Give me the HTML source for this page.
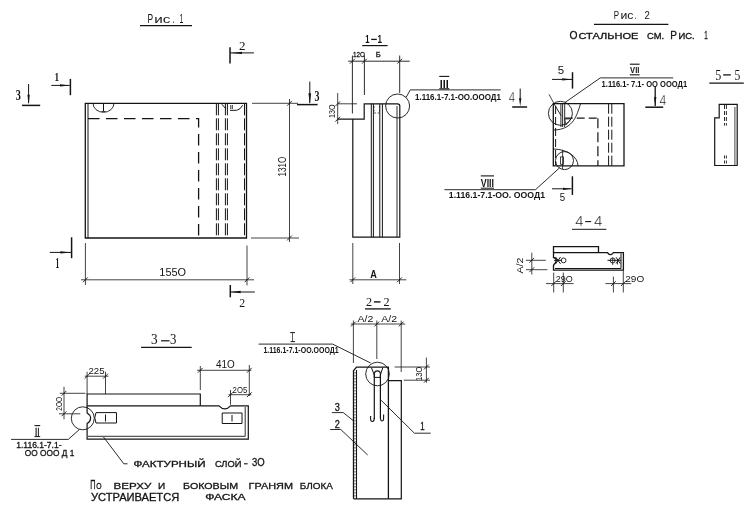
<!DOCTYPE html>
<html><head><meta charset="utf-8"><title>drawing</title>
<style>
html,body{margin:0;padding:0;background:#fff;}
body{width:754px;height:527px;overflow:hidden;}
svg{display:block;will-change:transform;}
text{font-family:"Liberation Sans", sans-serif;}
</style></head><body>
<svg width="754" height="527" viewBox="0 0 754 527">
<rect width="754" height="527" fill="#fff"/>
<text x="147.6" y="22.6" font-size="12.9" textLength="5.6" lengthAdjust="spacingAndGlyphs" fill="#141414" font-weight="normal">Р</text>
<text x="154.2" y="22.6" font-size="11.6" textLength="16.2" lengthAdjust="spacingAndGlyphs" fill="#141414" font-weight="normal">ис</text>
<text x="172.2" y="22.6" font-size="12" textLength="2.2" lengthAdjust="spacingAndGlyphs" fill="#141414" font-weight="normal">.</text>
<text x="179.6" y="22.6" font-size="12.9" textLength="3.8" lengthAdjust="spacingAndGlyphs" fill="#141414" font-weight="normal">1</text>
<line x1="140" y1="25.6" x2="192" y2="25.6" stroke="#141414" stroke-width="1.2"/>
<line x1="230" y1="47.3" x2="230" y2="63.6" stroke="#141414" stroke-width="1.5"/>
<line x1="230" y1="52.9" x2="253.9" y2="52.9" stroke="#141414" stroke-width="1.0"/>
<polygon points="231,52.9 242,51.699999999999996 242,54.1" fill="#141414"/>
<text x="238.9" y="49.6" font-size="12.7" textLength="6.5" lengthAdjust="spacingAndGlyphs" fill="#141414" font-weight="normal" style="font-family:&quot;Liberation Serif&quot;, serif">2</text>
<line x1="51.3" y1="85.4" x2="69.6" y2="85.4" stroke="#141414" stroke-width="1.0"/>
<polygon points="70,85.4 60,84.2 60,86.60000000000001" fill="#141414"/>
<line x1="70.4" y1="78.9" x2="70.4" y2="95.2" stroke="#141414" stroke-width="1.5"/>
<text x="54.4" y="80.8" font-size="13" textLength="4.6" lengthAdjust="spacingAndGlyphs" fill="#141414" font-weight="bold" style="font-family:&quot;Liberation Serif&quot;, serif">1</text>
<line x1="28.6" y1="84" x2="28.6" y2="103" stroke="#141414" stroke-width="1.0"/>
<polygon points="28.6,104.8 27.400000000000002,94.8 29.8,94.8" fill="#141414"/>
<line x1="22" y1="105.4" x2="40.2" y2="105.4" stroke="#141414" stroke-width="1.5"/>
<text x="15.8" y="99.8" font-size="13.7" textLength="5.1" lengthAdjust="spacingAndGlyphs" fill="#141414" font-weight="bold" style="font-family:&quot;Liberation Serif&quot;, serif">3</text>
<line x1="309.8" y1="81.6" x2="309.8" y2="103" stroke="#141414" stroke-width="1.0"/>
<polygon points="309.8,104.2 308.5,93.2 311.1,93.2" fill="#141414"/>
<line x1="297" y1="104.6" x2="317.6" y2="104.6" stroke="#141414" stroke-width="1.5"/>
<text x="314.4" y="100.6" font-size="14.5" textLength="5.0" lengthAdjust="spacingAndGlyphs" fill="#141414" font-weight="bold" style="font-family:&quot;Liberation Serif&quot;, serif">3</text>
<line x1="49.8" y1="252.4" x2="71" y2="252.4" stroke="#141414" stroke-width="1.0"/>
<polygon points="71.4,252.4 60.400000000000006,251.20000000000002 60.400000000000006,253.6" fill="#141414"/>
<line x1="71.6" y1="237.3" x2="71.6" y2="258.2" stroke="#141414" stroke-width="1.5"/>
<text x="55.6" y="267.5" font-size="14.2" textLength="3.8" lengthAdjust="spacingAndGlyphs" fill="#141414" font-weight="bold" style="font-family:&quot;Liberation Serif&quot;, serif">1</text>
<line x1="230.3" y1="285" x2="230.3" y2="297.3" stroke="#141414" stroke-width="1.5"/>
<line x1="230.3" y1="292" x2="254.8" y2="292" stroke="#141414" stroke-width="1.0"/>
<polygon points="230.6,292 240.6,290.7 240.6,293.3" fill="#141414"/>
<text x="239.2" y="307.2" font-size="12.3" textLength="5.9" lengthAdjust="spacingAndGlyphs" fill="#141414" font-weight="normal" style="font-family:&quot;Liberation Serif&quot;, serif">2</text>
<path d="M85.3 103.3 H246.5 V238 H85.3 Z" stroke="#141414" stroke-width="1.3" fill="none"/>
<line x1="88.0" y1="103.3" x2="88.0" y2="238" stroke="#141414" stroke-width="1.0"/>
<path d="M88 118.7 H198.6 V238" stroke="#141414" stroke-width="1.3" fill="none" stroke-dasharray="11.5,6.5"/>
<line x1="216.4" y1="103.3" x2="216.4" y2="238" stroke="#141414" stroke-width="1.0" stroke-dasharray="12,3"/>
<line x1="218.4" y1="103.3" x2="218.4" y2="238" stroke="#141414" stroke-width="1.0" stroke-dasharray="12,3"/>
<line x1="225.4" y1="103.3" x2="225.4" y2="238" stroke="#141414" stroke-width="1.0" stroke-dasharray="12,3"/>
<line x1="227.4" y1="103.3" x2="227.4" y2="238" stroke="#141414" stroke-width="1.0" stroke-dasharray="12,3"/>
<line x1="244.5" y1="103.3" x2="244.5" y2="238" stroke="#141414" stroke-width="1.0" stroke-dasharray="12,3"/>
<path d="M93 103.3 A10.5 9 0 0 0 114 103.3" stroke="#141414" stroke-width="0.9" fill="none"/>
<line x1="103.5" y1="104" x2="103.5" y2="111" stroke="#141414" stroke-width="1.0"/>
<line x1="101.5" y1="111.5" x2="105.5" y2="111.5" stroke="#141414" stroke-width="0.8"/>
<path d="M230 110.3 H236.7 Q240.5 109.5 242.7 105.2" stroke="#141414" stroke-width="1.0" fill="none"/>
<line x1="221.8" y1="104.2" x2="225.6" y2="108.5" stroke="#141414" stroke-width="1.0"/>
<text x="230" y="108.7" font-size="4.5" textLength="3.2" lengthAdjust="spacingAndGlyphs" fill="#141414" font-weight="bold">II</text>
<line x1="252" y1="103.3" x2="298" y2="103.3" stroke="#141414" stroke-width="0.8"/>
<line x1="251" y1="238" x2="299" y2="238" stroke="#141414" stroke-width="0.8"/>
<line x1="289.5" y1="99" x2="289.5" y2="242" stroke="#141414" stroke-width="0.8"/>
<line x1="287.1" y1="105.7" x2="291.9" y2="100.89999999999999" stroke="#141414" stroke-width="0.9"/>
<line x1="287.1" y1="240.4" x2="291.9" y2="235.6" stroke="#141414" stroke-width="0.9"/>
<text transform="translate(286.2,176.5) rotate(-90)" x="0" y="0" font-size="11" textLength="19.9" lengthAdjust="spacingAndGlyphs" fill="#141414">131O</text>
<line x1="85.4" y1="243" x2="85.4" y2="285" stroke="#141414" stroke-width="0.8"/>
<line x1="247" y1="245.5" x2="247" y2="285.4" stroke="#141414" stroke-width="0.8"/>
<line x1="81" y1="279.8" x2="254" y2="279.8" stroke="#141414" stroke-width="0.8"/>
<line x1="83.0" y1="282.2" x2="87.80000000000001" y2="277.40000000000003" stroke="#141414" stroke-width="0.9"/>
<line x1="244.6" y1="282.2" x2="249.4" y2="277.40000000000003" stroke="#141414" stroke-width="0.9"/>
<text x="159.3" y="276.3" font-size="10" textLength="26.8" lengthAdjust="spacingAndGlyphs" fill="#141414" font-weight="normal">155O</text>
<text x="365.3" y="42.9" font-size="11" textLength="4.2" lengthAdjust="spacingAndGlyphs" fill="#141414" font-weight="bold">1</text>
<line x1="371.2" y1="39.4" x2="376.8" y2="39.4" stroke="#141414" stroke-width="1.3"/>
<text x="377.5" y="42.9" font-size="11" textLength="4.5" lengthAdjust="spacingAndGlyphs" fill="#141414" font-weight="bold">1</text>
<line x1="362.2" y1="45.6" x2="387.6" y2="45.6" stroke="#141414" stroke-width="1.2"/>
<line x1="348.2" y1="61.2" x2="409.7" y2="61.2" stroke="#141414" stroke-width="0.9"/>
<line x1="350.0" y1="63.6" x2="354.79999999999995" y2="58.800000000000004" stroke="#141414" stroke-width="0.9"/>
<line x1="362.0" y1="63.6" x2="366.79999999999995" y2="58.800000000000004" stroke="#141414" stroke-width="0.9"/>
<line x1="397.3" y1="63.6" x2="402.09999999999997" y2="58.800000000000004" stroke="#141414" stroke-width="0.9"/>
<line x1="352.4" y1="55.5" x2="352.4" y2="113.5" stroke="#141414" stroke-width="0.9"/>
<line x1="364.4" y1="55.5" x2="364.4" y2="95" stroke="#141414" stroke-width="0.9"/>
<line x1="399.7" y1="55.5" x2="399.7" y2="93" stroke="#141414" stroke-width="0.9"/>
<text x="352.9" y="56.5" font-size="7.8" textLength="12.0" lengthAdjust="spacingAndGlyphs" fill="#141414" font-weight="normal" stroke="#141414" stroke-width="0.3">12O</text>
<text x="375.8" y="56.5" font-size="7.8" textLength="5.0" lengthAdjust="spacingAndGlyphs" fill="#141414" font-weight="normal" stroke="#141414" stroke-width="0.3">Б</text>
<line x1="337.8" y1="103.8" x2="357" y2="103.8" stroke="#141414" stroke-width="0.8"/>
<line x1="337.7" y1="93" x2="337.7" y2="124" stroke="#141414" stroke-width="0.8"/>
<line x1="335.3" y1="106.2" x2="340.09999999999997" y2="101.39999999999999" stroke="#141414" stroke-width="0.9"/>
<line x1="335.3" y1="121.60000000000001" x2="340.09999999999997" y2="116.8" stroke="#141414" stroke-width="0.9"/>
<text transform="translate(334.6,118) rotate(-90)" x="0" y="0" font-size="8.5" textLength="13.5" lengthAdjust="spacingAndGlyphs" fill="#141414">13O</text>
<path d="M337.8 119.2 H364.2 V103.8 H397.5 Q399.8 103.8 399.8 106 V237.2 H352.8 V119.2" stroke="#141414" stroke-width="1.2" fill="none"/>
<line x1="397.0" y1="106" x2="397.0" y2="237.2" stroke="#141414" stroke-width="0.9"/>
<line x1="371.3" y1="103.8" x2="371.3" y2="237.2" stroke="#141414" stroke-width="1.0"/>
<line x1="373.4" y1="103.8" x2="373.4" y2="237.2" stroke="#141414" stroke-width="1.0"/>
<line x1="379.8" y1="103.8" x2="379.8" y2="237.2" stroke="#141414" stroke-width="1.0"/>
<line x1="382.4" y1="103.8" x2="382.4" y2="237.2" stroke="#141414" stroke-width="1.0"/>
<path d="M374 106 V113 H379.5 V106" stroke="#141414" stroke-width="0.7" fill="none" stroke-dasharray="2,1.5"/>
<circle cx="397.6" cy="106" r="12" stroke="#141414" stroke-width="0.9" fill="none"/>
<path d="M406 97.5 L410.3 89.9 H500.6" stroke="#141414" stroke-width="0.9" fill="none"/>
<text x="439.8" y="87.6" font-size="10" textLength="9.0" lengthAdjust="spacingAndGlyphs" fill="#141414" font-weight="bold">III</text>
<line x1="439.3" y1="76.4" x2="449.3" y2="76.4" stroke="#141414" stroke-width="1.1"/>
<line x1="439.3" y1="88.8" x2="449.3" y2="88.8" stroke="#141414" stroke-width="1.1"/>
<text x="415" y="100.2" font-size="9.8" textLength="86" lengthAdjust="spacingAndGlyphs" fill="#141414" font-weight="bold">1.116.1-7.1-ОО.ОООД1</text>
<line x1="352.8" y1="243" x2="352.8" y2="284" stroke="#141414" stroke-width="0.8"/>
<line x1="399.5" y1="243" x2="399.5" y2="284" stroke="#141414" stroke-width="0.8"/>
<line x1="349.4" y1="279.8" x2="406.3" y2="279.8" stroke="#141414" stroke-width="0.8"/>
<line x1="350.40000000000003" y1="282.2" x2="355.2" y2="277.40000000000003" stroke="#141414" stroke-width="0.9"/>
<line x1="397.1" y1="282.2" x2="401.9" y2="277.40000000000003" stroke="#141414" stroke-width="0.9"/>
<text x="370.3" y="277.5" font-size="10.2" textLength="6.6" lengthAdjust="spacingAndGlyphs" fill="#141414" font-weight="bold">A</text>
<text x="613.8" y="18.8" font-size="11.2" textLength="5.3" lengthAdjust="spacingAndGlyphs" fill="#141414" font-weight="normal">Р</text>
<text x="620.5" y="18.8" font-size="10" textLength="13.0" lengthAdjust="spacingAndGlyphs" fill="#141414" font-weight="normal">ис</text>
<text x="634.4" y="18.8" font-size="10" textLength="1.8" lengthAdjust="spacingAndGlyphs" fill="#141414" font-weight="normal">.</text>
<text x="644.6" y="18.8" font-size="11.2" textLength="5.3" lengthAdjust="spacingAndGlyphs" fill="#141414" font-weight="normal">2</text>
<line x1="594" y1="24.4" x2="668.4" y2="24.4" stroke="#141414" stroke-width="1.2"/>
<text x="569.5" y="38.8" font-size="11.5" textLength="8.0" lengthAdjust="spacingAndGlyphs" fill="#141414" font-weight="normal" stroke="#141414" stroke-width="0.3">О</text>
<text x="578.5" y="38.8" font-size="8.6" textLength="60.0" lengthAdjust="spacingAndGlyphs" fill="#141414" font-weight="normal" stroke="#141414" stroke-width="0.3">СТАЛЬНОЕ</text>
<text x="647" y="38.8" font-size="8.6" textLength="17" lengthAdjust="spacingAndGlyphs" fill="#141414" font-weight="normal" stroke="#141414" stroke-width="0.3">СМ.</text>
<text x="670.3" y="38.8" font-size="11.5" textLength="6.7" lengthAdjust="spacingAndGlyphs" fill="#141414" font-weight="normal" stroke="#141414" stroke-width="0.3">Р</text>
<text x="678.5" y="38.8" font-size="8.6" textLength="16.2" lengthAdjust="spacingAndGlyphs" fill="#141414" font-weight="normal" stroke="#141414" stroke-width="0.3">ИС.</text>
<text x="704.3" y="38.8" font-size="11.5" textLength="3.5" lengthAdjust="spacingAndGlyphs" fill="#141414" font-weight="normal" stroke="#141414" stroke-width="0.3">1</text>
<text x="557.8" y="74.3" font-size="11.5" textLength="6.4" lengthAdjust="spacingAndGlyphs" fill="#141414" font-weight="normal">5</text>
<line x1="552" y1="79.4" x2="572" y2="79.4" stroke="#141414" stroke-width="1.0"/>
<polygon points="572.2,79.4 562.2,78.2 562.2,80.60000000000001" fill="#141414"/>
<line x1="572.5" y1="72.2" x2="572.5" y2="88.6" stroke="#141414" stroke-width="1.5"/>
<path d="M565 102.5 L600.3 77.9 H673.2" stroke="#141414" stroke-width="0.9" fill="none"/>
<text x="630.1" y="73.3" font-size="9" textLength="9.3" lengthAdjust="spacingAndGlyphs" fill="#141414" font-weight="bold">VII</text>
<line x1="629.8" y1="64.2" x2="639.6" y2="64.2" stroke="#141414" stroke-width="1.1"/>
<line x1="629.8" y1="74.8" x2="639.6" y2="74.8" stroke="#141414" stroke-width="1.1"/>
<text x="601.6" y="87.2" font-size="9.8" textLength="85.6" lengthAdjust="spacingAndGlyphs" fill="#141414" font-weight="bold">1.116.1- 7.1- ОО ОООД1</text>
<line x1="655.2" y1="86.3" x2="655.2" y2="106" stroke="#141414" stroke-width="1.3"/>
<polygon points="655.2,106 654.0,97 656.4000000000001,97" fill="#141414"/>
<line x1="645.3" y1="107.2" x2="663.2" y2="107.2" stroke="#141414" stroke-width="1.5"/>
<text x="659.6" y="105.2" font-size="15" textLength="6.8" lengthAdjust="spacingAndGlyphs" fill="#141414" font-weight="normal" stroke="#fff" stroke-width="0.35">4</text>
<text x="508.8" y="101.9" font-size="14" textLength="6.4" lengthAdjust="spacingAndGlyphs" fill="#141414" font-weight="normal" stroke="#fff" stroke-width="0.35">4</text>
<line x1="520.2" y1="88.6" x2="520.2" y2="100" stroke="#141414" stroke-width="1.0"/>
<polygon points="520.2,106.2 519.0,98.2 521.4000000000001,98.2" fill="#141414"/>
<line x1="512.2" y1="107" x2="527.1" y2="107" stroke="#141414" stroke-width="1.5"/>
<path d="M553.3 103.7 H624 V165.8 H553.3 Z" stroke="#141414" stroke-width="1.3" fill="none"/>
<line x1="555.6" y1="106" x2="555.6" y2="165" stroke="#141414" stroke-width="1.0" stroke-dasharray="8,3"/>
<line x1="564.7" y1="118.2" x2="597.9" y2="118.2" stroke="#141414" stroke-width="1.2" stroke-dasharray="8,4"/>
<line x1="597.9" y1="118.2" x2="597.9" y2="165.8" stroke="#141414" stroke-width="1.2" stroke-dasharray="10,4"/>
<line x1="608.6" y1="103.7" x2="608.6" y2="165.8" stroke="#141414" stroke-width="1.0" stroke-dasharray="10,3"/>
<line x1="611.8" y1="103.7" x2="611.8" y2="165.8" stroke="#141414" stroke-width="1.0" stroke-dasharray="10,3"/>
<circle cx="560.4" cy="113.3" r="12" stroke="#141414" stroke-width="0.9" fill="none"/>
<path d="M580.5 104 C577 114, 574 130, 553.3 130" stroke="#141414" stroke-width="0.9" fill="none"/>
<line x1="560.9" y1="103.7" x2="560.9" y2="127" stroke="#141414" stroke-width="0.9"/>
<line x1="562.6" y1="103.7" x2="562.6" y2="127" stroke="#141414" stroke-width="0.9"/>
<line x1="564.7" y1="103.7" x2="564.7" y2="127" stroke="#141414" stroke-width="0.9"/>
<line x1="554" y1="103.7" x2="561" y2="115.6" stroke="#141414" stroke-width="0.9"/>
<line x1="549" y1="94.3" x2="554" y2="103.7" stroke="#141414" stroke-width="0.8"/>
<path d="M564.7 119 L571 119 L566 125 Z" stroke="#141414" stroke-width="0.7" fill="none"/>
<circle cx="564.5" cy="160.6" r="9" stroke="#141414" stroke-width="0.9" fill="none"/>
<path d="M553.3 149 A25 17 0 0 1 578 165.8" stroke="#141414" stroke-width="0.9" fill="none"/>
<path d="M560.5 156.8 H563.5 V164.4 H560.5 Z" stroke="#141414" stroke-width="0.8" fill="none"/>
<line x1="562.6" y1="150" x2="562.6" y2="169" stroke="#141414" stroke-width="0.8"/>
<path d="M559.6 167.8 L535.5 189.7 H444.4" stroke="#141414" stroke-width="0.9" fill="none"/>
<text x="480.8" y="186.8" font-size="10" textLength="13.2" lengthAdjust="spacingAndGlyphs" fill="#141414" font-weight="bold">VIII</text>
<line x1="480.8" y1="175.9" x2="494" y2="175.9" stroke="#141414" stroke-width="1.1"/>
<line x1="480.8" y1="188.2" x2="494" y2="188.2" stroke="#141414" stroke-width="1.0"/>
<text x="448.8" y="198.4" font-size="9.8" textLength="96.2" lengthAdjust="spacingAndGlyphs" fill="#141414" font-weight="bold">1.116.1-7.1-ОО. ОООД1</text>
<line x1="572.4" y1="176.3" x2="572.4" y2="194.9" stroke="#141414" stroke-width="1.5"/>
<line x1="552" y1="188.8" x2="571.5" y2="188.8" stroke="#141414" stroke-width="1.0"/>
<polygon points="572,188.8 563,187.70000000000002 563,189.9" fill="#141414"/>
<text x="559.8" y="200.6" font-size="11.5" textLength="5.4" lengthAdjust="spacingAndGlyphs" fill="#141414" font-weight="normal">5</text>
<text x="575.3" y="226.2" font-size="15" textLength="8.2" lengthAdjust="spacingAndGlyphs" fill="#141414" font-weight="normal" stroke="#fff" stroke-width="0.3">4</text>
<line x1="585.2" y1="221.6" x2="591.2" y2="221.6" stroke="#141414" stroke-width="1.1"/>
<text x="594" y="226.2" font-size="15" textLength="8.4" lengthAdjust="spacingAndGlyphs" fill="#141414" font-weight="normal" stroke="#fff" stroke-width="0.3">4</text>
<line x1="572" y1="229.3" x2="606.4" y2="229.3" stroke="#141414" stroke-width="1.0"/>
<path d="M553.5 252.6 V246.6 H598.5 V252.6" stroke="#141414" stroke-width="1.3" fill="none"/>
<path d="M553.5 252.6 H607.5 Q608.5 254.6 610.5 254.6 Q612.5 254.6 613.4 252.6 H623.4 V270.2 H553.5 V265.2 Q556.3 262.5 556.3 260.3 Q556.3 258 553.5 257.5 Z" stroke="#141414" stroke-width="1.3" fill="none"/>
<path d="M555 268.5 H621 V253.5" stroke="#141414" stroke-width="1.0" fill="none"/>
<line x1="554" y1="260.3" x2="562" y2="260.3" stroke="#141414" stroke-width="1.0"/>
<path d="M555.6 257 L560.5 263.8 M555.6 263.8 L560.5 257" stroke="#141414" stroke-width="1.0" fill="none"/>
<circle cx="563.6" cy="260.4" r="2.4" stroke="#141414" stroke-width="0.9" fill="none"/>
<line x1="607.5" y1="260.3" x2="621" y2="260.3" stroke="#141414" stroke-width="1.0"/>
<circle cx="612.7" cy="260.5" r="2.5" stroke="#141414" stroke-width="0.9" fill="none"/>
<line x1="612.7" y1="257.5" x2="612.7" y2="265" stroke="#141414" stroke-width="0.8"/>
<path d="M616.1 257.3 L620.2 263.5 M616.1 263.5 L620.2 257.3" stroke="#141414" stroke-width="1.0" fill="none"/>
<line x1="617.5" y1="260" x2="617.5" y2="264.5" stroke="#141414" stroke-width="0.8"/>
<line x1="531.8" y1="252.7" x2="531.8" y2="274.6" stroke="#141414" stroke-width="0.8"/>
<line x1="525.9" y1="260.3" x2="545.8" y2="260.3" stroke="#141414" stroke-width="0.8"/>
<line x1="525.9" y1="269.7" x2="547.3" y2="269.7" stroke="#141414" stroke-width="0.8"/>
<line x1="529.4" y1="262.7" x2="534.1999999999999" y2="257.90000000000003" stroke="#141414" stroke-width="0.9"/>
<line x1="529.4" y1="272.09999999999997" x2="534.1999999999999" y2="267.3" stroke="#141414" stroke-width="0.9"/>
<text transform="translate(523,273.6) rotate(-90)" x="0" y="0" font-size="9" textLength="15.9" lengthAdjust="spacingAndGlyphs" fill="#141414">A/2</text>
<line x1="553.7" y1="272.6" x2="553.7" y2="292.5" stroke="#141414" stroke-width="0.8"/>
<line x1="563.3" y1="272.6" x2="563.3" y2="292.5" stroke="#141414" stroke-width="0.8"/>
<line x1="546" y1="283.6" x2="573.6" y2="283.6" stroke="#141414" stroke-width="0.8"/>
<line x1="551.3000000000001" y1="286.0" x2="556.1" y2="281.20000000000005" stroke="#141414" stroke-width="0.9"/>
<line x1="560.9" y1="286.0" x2="565.6999999999999" y2="281.20000000000005" stroke="#141414" stroke-width="0.9"/>
<text x="555.7" y="281.6" font-size="9.5" textLength="16.9" lengthAdjust="spacingAndGlyphs" fill="#141414" font-weight="normal">29O</text>
<line x1="613.4" y1="276.6" x2="613.4" y2="292.5" stroke="#141414" stroke-width="0.8"/>
<line x1="623.3" y1="270.6" x2="623.3" y2="292.5" stroke="#141414" stroke-width="0.8"/>
<line x1="605.4" y1="283.6" x2="631.3" y2="283.6" stroke="#141414" stroke-width="0.8"/>
<line x1="611.0" y1="286.0" x2="615.8" y2="281.20000000000005" stroke="#141414" stroke-width="0.9"/>
<line x1="620.9" y1="286.0" x2="625.6999999999999" y2="281.20000000000005" stroke="#141414" stroke-width="0.9"/>
<text x="625.3" y="281.6" font-size="9.5" textLength="18.9" lengthAdjust="spacingAndGlyphs" fill="#141414" font-weight="normal">29O</text>
<text x="715.3" y="79.9" font-size="13.7" textLength="6.0" lengthAdjust="spacingAndGlyphs" fill="#141414" font-weight="normal" style="font-family:&quot;Liberation Serif&quot;, serif">5</text>
<line x1="723.2" y1="74.9" x2="730.8" y2="74.9" stroke="#141414" stroke-width="1.3"/>
<text x="734.6" y="79.9" font-size="13.7" textLength="5.8" lengthAdjust="spacingAndGlyphs" fill="#141414" font-weight="normal" style="font-family:&quot;Liberation Serif&quot;, serif">5</text>
<line x1="709.3" y1="83.2" x2="743.8" y2="83.2" stroke="#141414" stroke-width="1.3"/>
<path d="M719.2 104.3 H737.2 V165.5 H714.7 V117.8 H719.2 Z" stroke="#141414" stroke-width="1.2" fill="none"/>
<line x1="734.9" y1="107" x2="734.9" y2="165.5" stroke="#141414" stroke-width="0.8"/>
<line x1="724.5" y1="105" x2="724.5" y2="125.6" stroke="#141414" stroke-width="0.9" stroke-dasharray="4,2"/>
<line x1="726.4" y1="105" x2="726.4" y2="125.6" stroke="#141414" stroke-width="0.9" stroke-dasharray="4,2"/>
<line x1="724.5" y1="155.5" x2="724.5" y2="165.5" stroke="#141414" stroke-width="0.9" stroke-dasharray="3,2"/>
<line x1="726.4" y1="155.5" x2="726.4" y2="165.5" stroke="#141414" stroke-width="0.9" stroke-dasharray="3,2"/>
<text x="150.9" y="343.6" font-size="14.5" textLength="6.6" lengthAdjust="spacingAndGlyphs" fill="#141414" font-weight="normal" style="font-family:&quot;Liberation Serif&quot;, serif">3</text>
<line x1="161" y1="340.8" x2="169.5" y2="340.8" stroke="#141414" stroke-width="1.2"/>
<text x="170" y="343.6" font-size="14.5" textLength="6.4" lengthAdjust="spacingAndGlyphs" fill="#141414" font-weight="normal" style="font-family:&quot;Liberation Serif&quot;, serif">3</text>
<line x1="141.1" y1="347.3" x2="191.7" y2="347.3" stroke="#141414" stroke-width="1.2"/>
<path d="M87.1 405.8 V394 H200.3 V405.8" stroke="#141414" stroke-width="1.2" fill="none"/>
<path d="M87.1 405.8 H219 Q224.8 412 230.5 405.8 H248.3 V439.2 H87.1 V423.5 Q90.6 421.5 90.6 418.2 Q90.6 415 87.1 413 Z" stroke="#141414" stroke-width="1.2" fill="none"/>
<path d="M88 436.3 H245.2 V407" stroke="#141414" stroke-width="0.9" fill="none"/>
<path d="M96 412.6 H116.5 V423 H96 Q93.5 417.8 96 412.6 Z" stroke="#141414" stroke-width="1.0" fill="none"/>
<line x1="105.5" y1="414.5" x2="105.5" y2="421.5" stroke="#141414" stroke-width="1.0"/>
<path d="M222.2 413 H242 V423.5 H222.2 Z" stroke="#141414" stroke-width="1.0" fill="none"/>
<line x1="232" y1="415" x2="232" y2="421.5" stroke="#141414" stroke-width="1.0"/>
<circle cx="82.8" cy="418.3" r="11.5" stroke="#141414" stroke-width="0.9" fill="none"/>
<path d="M79.4 429.5 L68.3 439.4 H11.1" stroke="#141414" stroke-width="0.9" fill="none"/>
<text x="35" y="435.8" font-size="10" textLength="4.6" lengthAdjust="spacingAndGlyphs" fill="#141414" font-weight="normal" stroke="#141414" stroke-width="0.3">II</text>
<line x1="34.5" y1="425.6" x2="40.2" y2="425.6" stroke="#141414" stroke-width="1.1"/>
<line x1="34.5" y1="436.6" x2="40.2" y2="436.6" stroke="#141414" stroke-width="1.0"/>
<text x="16.2" y="447.5" font-size="8.5" textLength="45.3" lengthAdjust="spacingAndGlyphs" fill="#141414" font-weight="normal" stroke="#141414" stroke-width="0.3">1.116.1-7.1-</text>
<text x="24.8" y="456" font-size="9.5" textLength="49.5" lengthAdjust="spacingAndGlyphs" fill="#141414" font-weight="normal" stroke="#141414" stroke-width="0.3">ОО ООО Д 1</text>
<line x1="64" y1="386.8" x2="64" y2="419.3" stroke="#141414" stroke-width="0.8"/>
<line x1="59.8" y1="393.3" x2="85.4" y2="393.3" stroke="#141414" stroke-width="0.8"/>
<line x1="59" y1="413.8" x2="80.3" y2="413.8" stroke="#141414" stroke-width="0.8"/>
<line x1="61.6" y1="395.7" x2="66.4" y2="390.90000000000003" stroke="#141414" stroke-width="0.9"/>
<line x1="61.6" y1="416.2" x2="66.4" y2="411.40000000000003" stroke="#141414" stroke-width="0.9"/>
<text transform="translate(61.5,410.7) rotate(-90)" x="0" y="0" font-size="8.5" textLength="13.7" lengthAdjust="spacingAndGlyphs" fill="#141414">2OO</text>
<line x1="84.7" y1="376.2" x2="108.4" y2="376.2" stroke="#141414" stroke-width="0.8"/>
<line x1="87.1" y1="371.8" x2="87.1" y2="394" stroke="#141414" stroke-width="0.8"/>
<line x1="105.5" y1="371.8" x2="105.5" y2="394" stroke="#141414" stroke-width="0.8"/>
<line x1="84.69999999999999" y1="378.59999999999997" x2="89.5" y2="373.8" stroke="#141414" stroke-width="0.9"/>
<line x1="103.1" y1="378.59999999999997" x2="107.9" y2="373.8" stroke="#141414" stroke-width="0.9"/>
<text x="88.5" y="373.7" font-size="9" textLength="16.1" lengthAdjust="spacingAndGlyphs" fill="#141414" font-weight="normal">225</text>
<line x1="197" y1="370.3" x2="251.4" y2="370.3" stroke="#141414" stroke-width="0.8"/>
<line x1="200.3" y1="366" x2="200.3" y2="390" stroke="#141414" stroke-width="0.8"/>
<line x1="249.3" y1="365" x2="249.3" y2="396" stroke="#141414" stroke-width="0.8"/>
<line x1="197.9" y1="372.7" x2="202.70000000000002" y2="367.90000000000003" stroke="#141414" stroke-width="0.9"/>
<line x1="246.9" y1="372.7" x2="251.70000000000002" y2="367.90000000000003" stroke="#141414" stroke-width="0.9"/>
<text x="216" y="368.2" font-size="10" textLength="18.7" lengthAdjust="spacingAndGlyphs" fill="#141414" font-weight="normal">41O</text>
<line x1="228.5" y1="394.7" x2="251.4" y2="394.7" stroke="#141414" stroke-width="0.8"/>
<line x1="230.5" y1="390" x2="230.5" y2="404.7" stroke="#141414" stroke-width="0.8"/>
<line x1="228.1" y1="397.09999999999997" x2="232.9" y2="392.3" stroke="#141414" stroke-width="0.9"/>
<line x1="246.9" y1="397.09999999999997" x2="251.70000000000002" y2="392.3" stroke="#141414" stroke-width="0.9"/>
<text x="232.6" y="393.2" font-size="8.5" textLength="14.6" lengthAdjust="spacingAndGlyphs" fill="#141414" font-weight="normal">2O5</text>
<path d="M103.5 437 L123.8 463.8 H127.5" stroke="#141414" stroke-width="0.9" fill="none"/>
<text x="133.5" y="467" font-size="9" textLength="72.0" lengthAdjust="spacingAndGlyphs" fill="#141414" font-weight="normal" stroke="#141414" stroke-width="0.3">ФАКТУРНЫЙ</text>
<text x="214.9" y="467" font-size="9" textLength="26.5" lengthAdjust="spacingAndGlyphs" fill="#141414" font-weight="normal" stroke="#141414" stroke-width="0.3">СЛОЙ</text>
<line x1="244" y1="463.8" x2="247.7" y2="463.8" stroke="#141414" stroke-width="1.1"/>
<text x="252" y="466.4" font-size="11" textLength="12.7" lengthAdjust="spacingAndGlyphs" fill="#141414" font-weight="normal" stroke="#141414" stroke-width="0.3">3O</text>
<text x="90.3" y="489.3" font-size="12.8" textLength="5.3" lengthAdjust="spacingAndGlyphs" fill="#141414" font-weight="normal" stroke="#141414" stroke-width="0.3">П</text>
<text x="96.3" y="489.3" font-size="8.8" textLength="5.3" lengthAdjust="spacingAndGlyphs" fill="#141414" font-weight="normal" stroke="#141414" stroke-width="0.3">О</text>
<text x="113.5" y="489.3" font-size="9.3" textLength="37.8" lengthAdjust="spacingAndGlyphs" fill="#141414" font-weight="normal" stroke="#141414" stroke-width="0.3">ВЕРХУ</text>
<text x="158" y="489.3" font-size="9.3" textLength="7.2" lengthAdjust="spacingAndGlyphs" fill="#141414" font-weight="normal" stroke="#141414" stroke-width="0.3">И</text>
<text x="183" y="489.3" font-size="9.3" textLength="55.1" lengthAdjust="spacingAndGlyphs" fill="#141414" font-weight="normal" stroke="#141414" stroke-width="0.3">БОКОВЫМ</text>
<text x="248.6" y="489.3" font-size="9.3" textLength="44.4" lengthAdjust="spacingAndGlyphs" fill="#141414" font-weight="normal" stroke="#141414" stroke-width="0.3">ГРАНЯМ</text>
<text x="299.7" y="489.3" font-size="9.3" textLength="33.1" lengthAdjust="spacingAndGlyphs" fill="#141414" font-weight="normal" stroke="#141414" stroke-width="0.3">БЛОКА</text>
<text x="91" y="500.5" font-size="10" textLength="88.2" lengthAdjust="spacingAndGlyphs" fill="#141414" font-weight="normal" stroke="#141414" stroke-width="0.3">УСТРАИВАЕТСЯ</text>
<text x="205.2" y="500.4" font-size="8.8" textLength="40.4" lengthAdjust="spacingAndGlyphs" fill="#141414" font-weight="normal" stroke="#141414" stroke-width="0.3">ФАСКА</text>
<text x="365.9" y="305.9" font-size="12.3" textLength="6.1" lengthAdjust="spacingAndGlyphs" fill="#141414" font-weight="normal" style="font-family:&quot;Liberation Serif&quot;, serif">2</text>
<line x1="373.9" y1="301.9" x2="380.5" y2="301.9" stroke="#141414" stroke-width="1.4"/>
<text x="383.4" y="305.9" font-size="12.3" textLength="6.1" lengthAdjust="spacingAndGlyphs" fill="#141414" font-weight="normal" style="font-family:&quot;Liberation Serif&quot;, serif">2</text>
<line x1="365" y1="308.9" x2="390.8" y2="308.9" stroke="#141414" stroke-width="1.3"/>
<line x1="350.8" y1="324" x2="405.2" y2="324" stroke="#141414" stroke-width="0.8"/>
<line x1="351.0" y1="326.4" x2="355.79999999999995" y2="321.6" stroke="#141414" stroke-width="0.9"/>
<line x1="374.40000000000003" y1="326.4" x2="379.2" y2="321.6" stroke="#141414" stroke-width="0.9"/>
<line x1="398.8" y1="326.4" x2="403.59999999999997" y2="321.6" stroke="#141414" stroke-width="0.9"/>
<line x1="353.4" y1="320.5" x2="353.4" y2="363" stroke="#141414" stroke-width="0.8"/>
<line x1="376.8" y1="320.5" x2="376.8" y2="359" stroke="#141414" stroke-width="0.8"/>
<line x1="401.2" y1="320.5" x2="401.2" y2="372" stroke="#141414" stroke-width="0.8"/>
<text x="357.4" y="321.8" font-size="9" textLength="15.9" lengthAdjust="spacingAndGlyphs" fill="#141414" font-weight="normal">A/2</text>
<text x="381.3" y="321.8" font-size="9" textLength="15.9" lengthAdjust="spacingAndGlyphs" fill="#141414" font-weight="normal">A/2</text>
<text x="291.5" y="341.1" font-size="10" textLength="2.1" lengthAdjust="spacingAndGlyphs" fill="#141414" font-weight="normal">I</text>
<line x1="290.2" y1="332.6" x2="295" y2="332.6" stroke="#141414" stroke-width="1.0"/>
<line x1="290.6" y1="341.6" x2="295" y2="341.6" stroke="#141414" stroke-width="1.0"/>
<path d="M258.6 344.1 H332.6 L370.7 363" stroke="#141414" stroke-width="0.9" fill="none"/>
<text x="263.4" y="353.1" font-size="9.8" textLength="75.2" lengthAdjust="spacingAndGlyphs" fill="#141414" font-weight="bold">1.116.1-7.1-ОО.ОООД1</text>
<path d="M353.5 498.8 V370.8 L356.5 367.2 H388.4 V498.8" stroke="#141414" stroke-width="1.3" fill="none"/>
<path d="M353.5 498.8 H401.3 V380.7 H388.4" stroke="#141414" stroke-width="1.2" fill="none"/>
<line x1="356.5" y1="370" x2="356.5" y2="498.8" stroke="#141414" stroke-width="1.1"/>
<line x1="355.0" y1="372" x2="355.0" y2="498" stroke="#141414" stroke-width="0.8" stroke-dasharray="1.5,1.5"/>
<circle cx="377.5" cy="374" r="11.8" stroke="#141414" stroke-width="0.9" fill="none"/>
<path d="M371.4 367.6 L374.3 375" stroke="#141414" stroke-width="1.0" fill="none"/>
<path d="M382.8 367.6 L380.4 375" stroke="#141414" stroke-width="1.0" fill="none"/>
<path d="M374.3 377.5 V374.5 A3.05 3.6 0 0 1 380.4 374.5 V377.5" stroke="#141414" stroke-width="1.1" fill="none"/>
<line x1="374.3" y1="377.4" x2="380.4" y2="377.4" stroke="#141414" stroke-width="1.0"/>
<line x1="374.3" y1="375" x2="374.3" y2="419" stroke="#141414" stroke-width="1.2"/>
<line x1="380.4" y1="375" x2="380.4" y2="418" stroke="#141414" stroke-width="1.2"/>
<path d="M374.3 418 Q374.3 421.5 372.4 421.5 Q370.6 421.5 370.6 419 V416" stroke="#141414" stroke-width="1.1" fill="none"/>
<path d="M380.4 417 Q380.4 421 382 421 Q383.6 421 383.6 418.5 V414.5" stroke="#141414" stroke-width="1.1" fill="none"/>
<line x1="394.6" y1="367" x2="430" y2="367" stroke="#141414" stroke-width="0.8"/>
<line x1="403.8" y1="380.2" x2="430" y2="380.2" stroke="#141414" stroke-width="0.8"/>
<line x1="426.4" y1="357.6" x2="426.4" y2="382.8" stroke="#141414" stroke-width="0.8"/>
<line x1="424.0" y1="369.4" x2="428.79999999999995" y2="364.6" stroke="#141414" stroke-width="0.9"/>
<line x1="424.0" y1="382.59999999999997" x2="428.79999999999995" y2="377.8" stroke="#141414" stroke-width="0.9"/>
<text transform="translate(422,381) rotate(-90)" x="0" y="0" font-size="8.5" textLength="14.5" lengthAdjust="spacingAndGlyphs" fill="#141414">13O</text>
<text x="334.7" y="410.7" font-size="10.5" textLength="5.1" lengthAdjust="spacingAndGlyphs" fill="#141414" font-weight="normal" stroke="#141414" stroke-width="0.3">3</text>
<path d="M331.9 412.6 H343.3 L353.7 421" stroke="#141414" stroke-width="0.9" fill="none"/>
<text x="334.7" y="427.8" font-size="10.5" textLength="5.1" lengthAdjust="spacingAndGlyphs" fill="#141414" font-weight="normal" stroke="#141414" stroke-width="0.3">2</text>
<path d="M330.2 429.5 H340.8 L367.7 455" stroke="#141414" stroke-width="0.9" fill="none"/>
<text x="420.2" y="430.3" font-size="10.5" textLength="4.4" lengthAdjust="spacingAndGlyphs" fill="#141414" font-weight="normal" stroke="#141414" stroke-width="0.3">1</text>
<path d="M381.2 400.3 L414.4 433.2 H430.7" stroke="#141414" stroke-width="0.9" fill="none"/>
</svg>
</body></html>
